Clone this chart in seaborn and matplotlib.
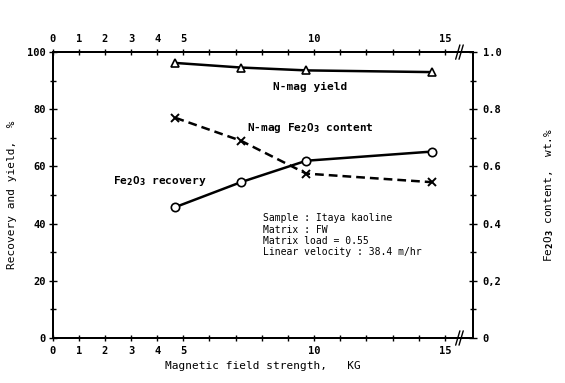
import matplotlib
matplotlib.use("Agg")
import matplotlib.pyplot as plt
import seaborn as sns
import pandas as pd

# data
field = [4.7, 7.2, 9.7, 14.5]
nmag_yield = [96.2, 94.6, 93.6, 93.0]
fe_recovery = [45.8, 54.5, 62.0, 65.2]
fe_content = [0.77, 0.69, 0.575, 0.545]

x_ticks = list(range(0, 16))
x_labels = ["0", "1", "2", "3", "4", "5", "", "", "", "", "10", "", "", "", "", "15"]
left_ticks = [0, 20, 40, 60, 80, 100]
right_ticks = [0, 0.2, 0.4, 0.6, 0.8, 1.0]
right_labels = ["0", "0,2", "0.4", "0.6", "0.8", "1.0"]

sns.set_style("ticks")
plt.rcParams["font.family"] = ["DejaVu Sans Mono"]
plt.rcParams["font.weight"] = "bold"
plt.rcParams["text.color"] = "black"
plt.rcParams["axes.labelcolor"] = "black"
plt.rcParams["xtick.color"] = "black"
plt.rcParams["ytick.color"] = "black"
plt.rcParams["mathtext.default"] = "bf"

df = pd.DataFrame({"field": field, "yield": nmag_yield,
                   "recovery": fe_recovery, "content": fe_content})

fig = plt.figure(figsize=(5.65, 3.83), dpi=100)
ax = fig.add_axes([0.093, 0.1175, 0.744, 0.7465])
ax2 = ax.twinx()

sns.lineplot(data=df, x="field", y="yield", ax=ax, color="black", lw=1.8,
             marker="^", markersize=6, markerfacecolor="white",
             markeredgecolor="black", markeredgewidth=1.2)
sns.lineplot(data=df, x="field", y="recovery", ax=ax, color="black", lw=1.8,
             marker="o", markersize=6, markerfacecolor="white",
             markeredgecolor="black", markeredgewidth=1.2)
sns.lineplot(data=df, x="field", y="content", ax=ax2, color="black", lw=1.8,
             linestyle=(0, (3.5, 2)), marker="x", markersize=6,
             markeredgecolor="black", markeredgewidth=1.4)

ax.set_xlim(0, 16.07)
ax.set_ylim(0, 100)
ax2.set_ylim(0, 1.0)

ax.set_xticks(x_ticks)
ax.set_xticklabels(x_labels, fontsize=7.5)
ax.tick_params(axis="x", top=True, labeltop=True, direction="inout", length=5, width=1, pad=3)
ax.set_yticks(left_ticks)
ax.set_yticklabels([str(t) for t in left_ticks], fontsize=7.5)
ax.set_yticks([10, 30, 50, 70, 90], minor=True)
ax.tick_params(axis="y", which="major", direction="inout", length=6, width=1, pad=2)
ax.tick_params(axis="y", which="minor", direction="inout", length=4, width=1)

ax2.set_yticks(right_ticks)
ax2.set_yticklabels(right_labels, fontsize=7.5)
ax2.set_yticks([0.1, 0.3, 0.5, 0.7, 0.9], minor=True)
ax2.tick_params(axis="y", which="major", direction="inout", length=6, width=1, pad=4)
ax2.tick_params(axis="y", which="minor", direction="inout", length=4, width=1)

for a in (ax, ax2):
    for s in a.spines.values():
        s.set_linewidth(1.4)
        s.set_color("black")

ax.set_xlabel("Magnetic field strength,   KG", fontsize=8)
ax.set_ylabel("Recovery and yield,  %", fontsize=8)
ax.yaxis.set_label_coords(-0.085, 0.5)
ax2.set_ylabel("Fe$_2$O$_3$ content,  wt.%", fontsize=8, rotation=90)
ax2.yaxis.set_label_coords(1.165, 0.5)

# axis break marks
for yb in (0, 1):
    for dx in (0, 0.008):
        ax.plot([0.959 + dx, 0.969 + dx], [yb - 0.025, yb + 0.025],
                transform=ax.transAxes, color="black", lw=1.0, clip_on=False)

ax.text(9.85, 87.8, "N-mag yield", fontsize=8, ha="center", va="center")
ax.text(9.85, 73.4, "N-mag Fe$_2$O$_3$ content", fontsize=8, ha="center", va="center")
ax.text(4.1, 54.9, "Fe$_2$O$_3$ recovery", fontsize=8, ha="center", va="center")
ax.text(8.04, 43.6, "Sample : Itaya kaoline\nMatrix : FW\nMatrix load = 0.55\nLinear velocity : 38.4 m/hr",
        fontsize=7, ha="left", va="top", linespacing=1.15, fontweight="normal")

fig.savefig("out.png", dpi=100)
